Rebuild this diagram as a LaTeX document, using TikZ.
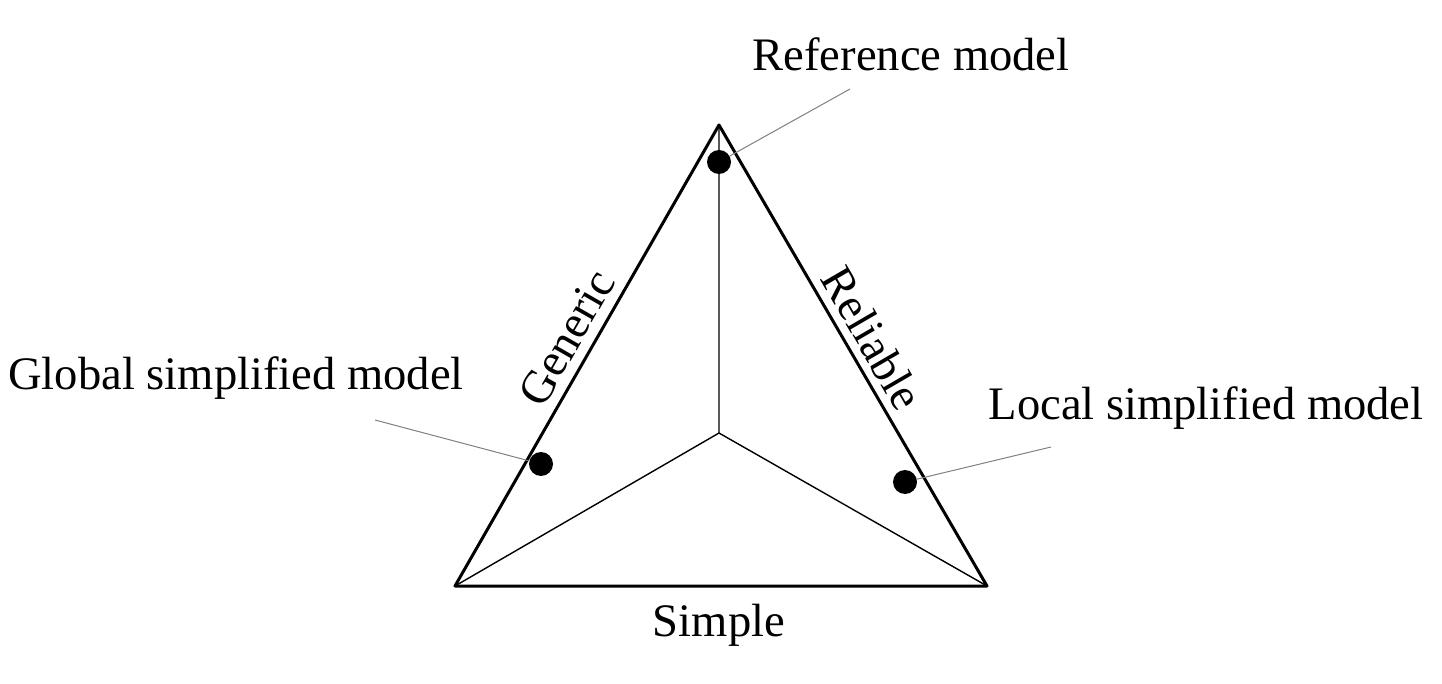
\documentclass[tikz,border=0pt]{standalone}
\usepackage{fontspec}
\setmainfont{Liberation Serif}
\usetikzlibrary{positioning}

\begin{document}
\begin{tikzpicture}[x=0.5pt,y=-0.5pt,font=\fontsize{23.3}{27}\selectfont,
  corner/.style={line width=1.5pt,line join=round},
  spoke/.style={line width=0.7pt},
  modeldot/.style={circle,fill=black,inner sep=0pt,minimum size=12pt},
  leader/.style={gray,line width=0.5pt}]
  \useasboundingbox (0,0) rectangle (1442,684);

  \coordinate (top) at (719,125);
  \coordinate (left) at (455,586);
  \coordinate (right) at (987,586);
  \coordinate (centre) at (719,433);

  \draw[spoke] (centre) -- (top) (centre) -- (left) (centre) -- (right);
  \draw[corner] (top) -- (left) -- (right) -- cycle;

  \path (left) -- (top) node[pos=0.51,sloped,above=2pt] (generic) {Generic};
  \path (top) -- (right) node[pos=0.49,sloped,above=1pt] (reliable) {Reliable};
  \node[anchor=base] (simple) at (719,636) {Simple};

  \node[modeldot] (refdot) at (719,162) {};
  \node[modeldot] (globdot) at (541,464) {};
  \node[modeldot] (locdot) at (905,482) {};

  \node[anchor=base] (reflabel) at (911,71) {Reference model};
  \node[anchor=base] (globlabel) at (236,390) {Global simplified model};
  \node[anchor=base] (loclabel) at (1206,420) {Local simplified model};

  \coordinate (refend) at (850,89);
  \coordinate (globend) at (375,420);
  \coordinate (locend) at (1051,447);
  \draw[leader] (refdot) -- (refend);
  \draw[leader] (globdot) -- (globend);
  \draw[leader] (locdot) -- (locend);
\end{tikzpicture}
\end{document}
